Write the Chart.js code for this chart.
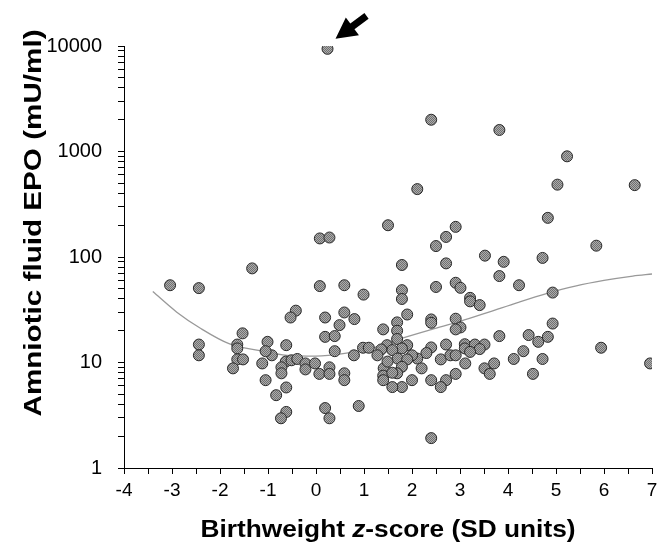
<!DOCTYPE html>
<html>
<head>
<meta charset="utf-8">
<script src="https://cdn.jsdelivr.net/npm/chart.js@4.4.0/dist/chart.umd.min.js"></script>
<style>
  html, body { margin: 0; padding: 0; background: #fff; }
</style>
</head>
<body>
<canvas id="epoCanvas" width="670" height="543"></canvas>
<script>
// birthweight z-score of each case (x) and its amniotic fluid EPO (y)
const zScores = [0.24, 2.40, 3.82, 5.23, 2.11, 1.50, 5.03, 6.64, 4.83, 5.84,
    2.91, 2.71, 2.50, 0.08, 0.28, -1.33, 1.79, 2.71, 3.52, 3.91,
    4.72, 3.82, 4.23, 4.93, 1.79, 1.79, 2.50, 2.91, 3.01, 3.21,
    3.21, 3.41, 1.90, 1.69, 2.40, 2.40, 2.91, 3.01, 2.91, 1.40,
    1.69, 1.69, 1.48, 1.90, 1.79, 1.59, 1.36, 2.40, 2.71, 3.10,
    3.10, 3.31, 3.51, 3.41, 3.21, 2.30, 2.11, 2.00, 1.70, 1.90,
    2.60, 2.80, 2.91, 3.82, 4.43, 4.63, 4.83, 4.93, 4.32, 4.12,
    4.72, 5.94, 6.96, 3.11, 3.71, 3.51, 3.62, 4.52, 2.91, 2.71,
    2.60, 2.40, 2.00, 1.79, 1.59, 2.20, 1.79, 1.69, 1.41, 1.40,
    1.40, 2.40, 0.08, 0.59, 0.99, -0.42, -0.53, 0.19, 0.59, 0.80,
    0.49, 0.19, 0.39, -1.01, -0.62, -0.92, -1.05, 0.39, 0.79, 0.98,
    1.10, 1.28, 1.49, 1.59, -0.63, -0.51, -0.39, -0.72, -0.72, -0.22,
    -0.22, -0.02, 0.07, 0.28, 0.28, 0.59, 0.59, -1.05, -0.62, -0.83,
    -0.62, -0.73, 0.19, 0.28, 0.89, -3.04, -2.44, -2.44, -2.44, -1.53,
    -1.64, -1.64, -1.64, -1.52, -1.73, -1.12];
const epoValues = [9400, 2000, 1600, 900, 440, 200, 485, 480, 235, 128,
    193, 155, 127, 150, 153, 78, 84, 87, 103, 90,
    98, 66, 54, 46, 48.5, 40, 52, 57, 51, 41,
    38, 35, 28.5, 24, 25.6, 23.8, 26, 21.5, 20.6, 20.6,
    20, 16.7, 14.6, 14.6, 13.6, 13.1, 13.3, 13.9, 14.8, 14.9,
    13.6, 14.8, 14.8, 13.4, 12.6, 12.3, 10.9, 11.7, 10.9, 10.7,
    10.7, 11.7, 11.7, 17.8, 18.2, 15.7, 17.5, 23.4, 12.8, 10.8,
    10.8, 13.8, 9.8, 9.8, 9.8, 8.8, 7.8, 7.8, 7.8, 6.8,
    5.85, 6.8, 6.8, 5.85, 5.85, 8.8, 9.1, 7.9, 8.8, 7.5,
    6.8, 1.92, 53, 54, 44, 31, 26.7, 26.7, 29.8, 25.8,
    22.6, 17.5, 17.8, 15.7, 14.6, 11.7, 12.8, 12.8, 11.7, 13.8,
    13.8, 11.7, 10.2, 8.0, 10.2, 10.5, 10.8, 9.0, 7.9, 9.8,
    8.6, 9.8, 7.8, 9.0, 7.8, 7.9, 6.8, 6.8, 5.8, 4.9,
    3.4, 2.96, 3.7, 2.96, 3.87, 54, 50.7, 14.8, 11.7, 18.9,
    14.8, 13.6, 10.7, 10.7, 8.8, 9.8];

// the fitted curve
const fitZ = [-3.4, -2.9, -2.4, -1.8, -1.2, -0.6, 0, 0.6, 1.2, 1.8, 2.4, 3.0, 3.6, 4.2, 4.8, 5.4, 6.0, 6.6, 7.0];
const fitEpo = [47, 30, 21, 15, 13, 11.7, 11.5, 12.2, 13.8, 17, 20.5, 24.5, 30, 37, 45, 53, 60, 66, 69];

// axis ticks
const decades = [1, 10, 100, 1000, 10000];
const minorSteps = [2, 3, 4, 5, 6, 7, 8, 9];
const xMin = -4;
const xMax = 7;

const AXIS_FONT = '"Liberation Sans", Arial, sans-serif';

// all the log ticks: 1,2,..9,10,20,...,10000
function logTicks() {
    const list = [];
    decades.forEach(d => {
        list.push(d);
        if (d < decades[decades.length - 1]) {
            minorSteps.forEach(m => list.push(d * m));
        }
    });
    return list;
}

// small checker pattern for the hatched markers
function markerPattern(ctx) {
    const p = document.createElement('canvas');
    p.width = 2;
    p.height = 2;
    const pc = p.getContext('2d');
    pc.fillStyle = '#acacac';
    pc.fillRect(0, 0, 2, 2);
    pc.fillStyle = '#707070';
    pc.fillRect(0, 0, 1, 1);
    pc.fillRect(1, 1, 1, 1);
    return ctx.createPattern(p, 'repeat');
}

// draws both axis titles (with the italic z) and the arrow to the outlier
const extrasPlugin = {
    id: 'extras',
    afterDraw(chart) {
        const ctx = chart.ctx;
        const area = chart.chartArea;
        ctx.save();
        ctx.fillStyle = '#000';
        ctx.textBaseline = 'alphabetic';

        // x title
        const bold = 'bold 23px ' + AXIS_FONT;
        const italic = 'italic bold 23px ' + AXIS_FONT;
        const parts = [[bold, 'Birthweight '], [italic, 'z'], [bold, '-score (SD units)']];
        let total = 0;
        parts.forEach(p => { ctx.font = p[0]; total += ctx.measureText(p[1]).width; });
        ctx.save();
        ctx.translate((area.left + area.right) / 2 - 375 / 2, 537);
        ctx.scale(375 / total, 1);
        let x = 0;
        ctx.textAlign = 'left';
        parts.forEach(p => {
            ctx.font = p[0];
            ctx.fillText(p[1], x, 0);
            x += ctx.measureText(p[1]).width;
        });
        ctx.restore();

        // y title
        const yTitle = 'Amniotic fluid EPO (mU/ml)';
        ctx.save();
        ctx.font = bold;
        const yw = ctx.measureText(yTitle).width;
        ctx.translate(41, 223);
        ctx.rotate(-Math.PI / 2);
        ctx.scale(387 / yw, 1);
        ctx.textAlign = 'center';
        ctx.fillText(yTitle, 0, 0);
        ctx.restore();

        // arrow pointing at the highest value
        const top = epoValues.indexOf(Math.max(...epoValues));
        const px = chart.scales.x.getPixelForValue(zScores[top]);
        const py = chart.scales.y.getPixelForValue(epoValues[top]);
        const tipX = px + 8, tipY = py - 10;
        const tailX = px + 39, tailY = py - 33;
        const ang = Math.atan2(tailY - tipY, tailX - tipX);
        const headLen = 21, headW = 11, shaftW = 3.5;
        const cos = Math.cos(ang), sin = Math.sin(ang);
        const bx = tipX + cos * headLen, by = tipY + sin * headLen;
        ctx.beginPath();
        ctx.moveTo(tipX, tipY);
        ctx.lineTo(bx - sin * headW, by + cos * headW);
        ctx.lineTo(bx - sin * shaftW, by + cos * shaftW);
        ctx.lineTo(tailX - sin * shaftW, tailY + cos * shaftW);
        ctx.lineTo(tailX + sin * shaftW, tailY - cos * shaftW);
        ctx.lineTo(bx + sin * shaftW, by - cos * shaftW);
        ctx.lineTo(bx + sin * headW, by - cos * headW);
        ctx.closePath();
        ctx.fill();
        ctx.restore();
    }
};

document.addEventListener('DOMContentLoaded', function() {
    const canvas = document.getElementById('epoCanvas');
    const ctx = canvas.getContext('2d');
    const pattern = markerPattern(ctx);

    new Chart(ctx, {
        type: 'scatter',
        data: {
            datasets: [{
                label: 'cases',
                data: zScores.map((z, i) => ({ x: z, y: epoValues[i] })),
                backgroundColor: pattern,
                borderColor: '#2a2a2a',
                borderWidth: 1,
                pointRadius: 5.5,
                order: 1
            }, {
                label: 'fit',
                type: 'line',
                data: fitZ.map((z, i) => ({ x: z, y: fitEpo[i] })),
                borderColor: '#999999',
                borderWidth: 1.3,
                pointRadius: 0,
                fill: false,
                cubicInterpolationMode: 'monotone',
                order: 2
            }]
        },
        options: {
            responsive: false,
            animation: false,
            devicePixelRatio: 1,
            layout: { padding: { left: 0, right: 18, top: 46, bottom: 0 } },
            plugins: {
                legend: { display: false },
                tooltip: { enabled: false }
            },
            scales: {
                x: {
                    type: 'linear',
                    min: xMin,
                    max: xMax,
                    afterFit: scale => { scale.height = 75; },
                    grid: { drawOnChartArea: false, tickLength: 6, tickColor: '#000', color: '#000' },
                    border: { display: true, color: '#000', width: 1 },
                    ticks: {
                        stepSize: 0.5,
                        autoSkip: false,
                        maxRotation: 0,
                        padding: 5,
                        color: '#000',
                        font: { family: AXIS_FONT, size: 19 },
                        callback: v => Number.isInteger(v) ? String(v) : ''
                    }
                },
                y: {
                    type: 'logarithmic',
                    min: 1,
                    max: 10000,
                    afterFit: scale => { scale.width = 124; },
                    afterBuildTicks: scale => { scale.ticks = logTicks().map(v => ({ value: v })); },
                    grid: { drawOnChartArea: false, tickLength: 6, tickColor: '#000', color: '#000' },
                    border: { display: true, color: '#000', width: 1 },
                    ticks: {
                        autoSkip: false,
                        padding: 16,
                        color: '#000',
                        font: { family: AXIS_FONT, size: 20 },
                        callback: v => decades.includes(v) ? String(v) : ''
                    }
                }
            }
        },
        plugins: [extrasPlugin]
    });
});
</script>
</body>
</html>
